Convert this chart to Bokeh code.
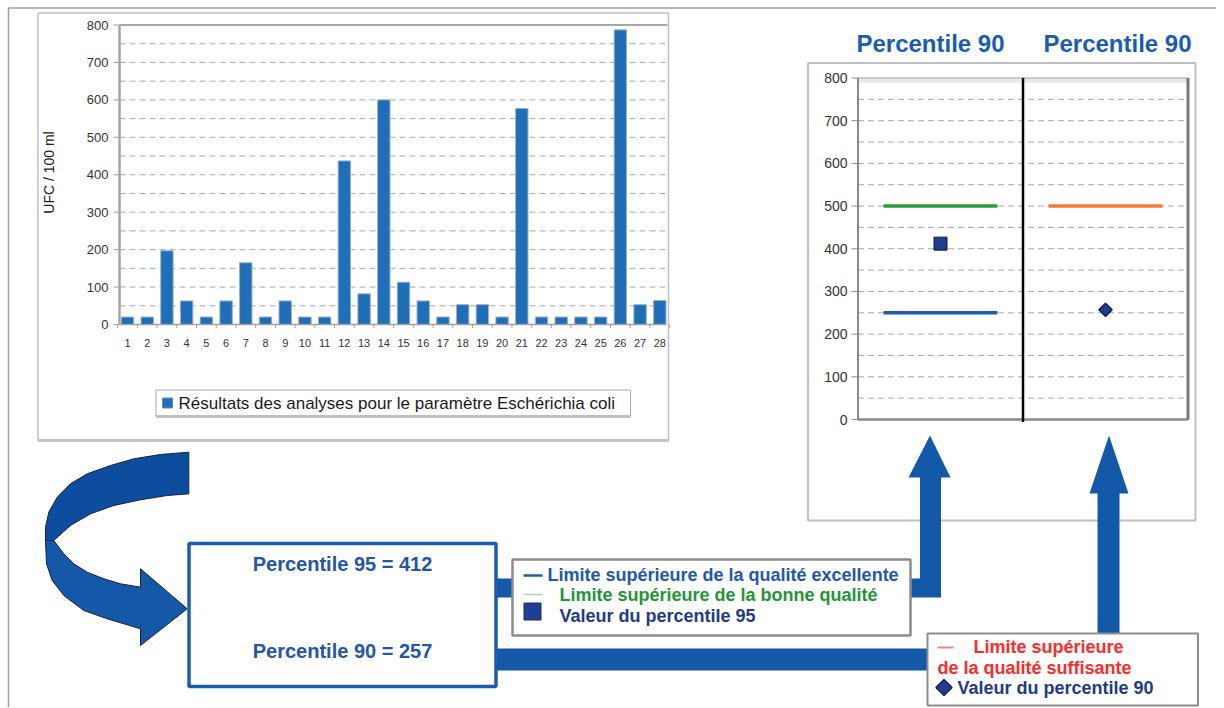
import numpy as np
from bokeh.plotting import figure
from bokeh.models import Range1d
from bokeh.core.properties import value
from bokeh.embed import file_html
from bokeh.resources import INLINE

# ---------------- data ----------------
samples = list(range(1, 29))
ecoli = [20, 20, 197, 63, 20, 63, 165, 20, 63, 20, 20, 437, 82, 600,
         113, 63, 20, 53, 53, 20, 577, 20, 20, 20, 20, 787, 53, 64]
bar_ticks = [0, 100, 200, 300, 400, 500, 600, 700, 800]
minor_ticks = [50, 150, 250, 350, 450, 550, 650, 750]
bar_tick_labels = [str(t) for t in bar_ticks]
bar_legend = "Résultats des analyses pour le paramètre Eschérichia coli"
y_title = "UFC / 100 ml"

columns = [1, 2]
column_titles = ["Percentile 90", "Percentile 90"]
limit_columns = [1, 1, 2]
limit_values = [250, 500, 500]
limit_colors = ["#1f5cb0", "#2a9a3c", "#f37a36"]
limit_names = ["Limite supérieure de la qualité excellente",
               "Limite supérieure de la bonne qualité",
               "Limite supérieure", "de la qualité suffisante"]
p95_value = 412
p90_value = 257

FONT = value("Liberation Sans")
ARROW = "#1459a8"
W, H = 1216, 707


def fit_range(v0, s0, v1, s1, lo, hi):
    k = (v1 - v0) / (s1 - s0)
    return Range1d(start=v0 + (lo - s0) * k, end=v0 + (hi - s0) * k)


p = figure(width=W, height=H, x_range=Range1d(0, W), y_range=Range1d(H, 0),
           x_axis_type=None, y_axis_type=None, toolbar_location=None,
           output_backend="svg", min_border=0, outline_line_color=None,
           background_fill_color="white", border_fill_color="white")

p.extra_x_ranges["bx"] = fit_range(1, 127, 28, 659.3, 0, W)
p.extra_y_ranges["by"] = fit_range(0, 324, 800, 24.5, H, 0)
p.extra_x_ranges["px"] = fit_range(1, 940, 2, 1105, 0, W)
p.extra_y_ranges["py"] = fit_range(0, 419, 800, 77.5, H, 0)

# page frame
p.segment(x0=8, x1=W, y0=7.5, y1=7.5, line_color="#a0a0a0", line_width=1.5)
p.segment(x0=8, x1=8, y0=7.5, y1=H, line_color="#a0a0a0", line_width=1.5)

# ---------------- bar chart ----------------
p.quad(left=37.5, right=668, top=12.5, bottom=440, fill_color="white",
       line_color="#c0c0c0", line_width=1.5)
p.segment(x0=37.5, x1=668, y0=440, y1=440, line_color="#c4c4c4", line_width=3)

p.segment(x0=119, x1=666, y0=minor_ticks + bar_ticks[1:-1], y1=minor_ticks + bar_ticks[1:-1],
          y_range_name="by", line_color="#a8a8a8", line_width=1, line_dash="6 4")
p.vbar(x=samples, top=ecoli, bottom=0, width=0.63, x_range_name="bx", y_range_name="by",
       fill_color="#1e6eb8", line_color="#9fb0c8", line_width=1)
p.segment(x0=119, x1=119, y0=0, y1=800, y_range_name="by", line_color="#a6a6a6", line_width=2.5)
p.segment(x0=119, x1=667, y0=800, y1=800, y_range_name="by", line_color="#a6a6a6", line_width=2)
p.segment(x0=119, x1=666, y0=0, y1=0, y_range_name="by", line_color="#a0a0a0", line_width=1.5)
p.segment(x0=113, x1=119, y0=bar_ticks, y1=bar_ticks, y_range_name="by",
          line_color="#a0a0a0", line_width=1)
bounds = [s + 0.5 for s in [0] + samples]
p.segment(x0=bounds, x1=bounds, y0=324, y1=327.5, x_range_name="bx",
          line_color="#a0a0a0", line_width=1)
p.text(x=108, y=bar_ticks, text=bar_tick_labels, y_range_name="by", text_font=FONT,
       text_font_size="13px", text_color="#333333", text_align="right", text_baseline="middle")
p.text(x=samples, y=342, text=[str(s) for s in samples], x_range_name="bx", text_font=FONT,
       text_font_size="11px", text_color="#333333", text_align="center", text_baseline="middle")
p.text(x=48, y=172, text=[y_title], angle=np.pi / 2, text_font=FONT, text_font_size="14px",
       text_color="#222222", text_align="center", text_baseline="middle")

p.quad(left=155.5, right=630, top=389.5, bottom=416, fill_color="white",
       line_color="#a8a8a8", line_width=1)
p.segment(x0=155.5, x1=630, y0=416, y1=416, line_color="#c0c0c0", line_width=3)
p.scatter(x=[167], y=[402.5], marker="square", size=10, fill_color="#1e6eb8",
          line_color="#6a88b8", line_width=1)
p.text(x=178, y=403, text=[bar_legend], text_font=FONT, text_font_size="17px",
       text_color="#1a1a1a", text_align="left", text_baseline="middle")

# ---------------- percentile chart ----------------
p.quad(left=807.5, right=1195, top=62.5, bottom=520, fill_color="white",
       line_color="#c0c0c0", line_width=2)
p.quad(left=0.5, right=2.5, top=800, bottom=789, x_range_name="px", y_range_name="py",
       fill_color="#e8e8e8", line_color=None)
p.segment(x0=0.5, x1=2.5, y0=800, y1=800, x_range_name="px", y_range_name="py",
          line_color="#bdbdbd", line_width=1.5)
p.segment(x0=0.5, x1=2.5, y0=minor_ticks + bar_ticks[1:-1], y1=minor_ticks + bar_ticks[1:-1],
          x_range_name="px", y_range_name="py", line_color="#a8a8a8", line_width=1, line_dash="6 4")
p.segment(x0=0.5, x1=0.5, y0=0, y1=800, x_range_name="px", y_range_name="py",
          line_color="#8a8a8a", line_width=2)
p.segment(x0=0.5, x1=2.5, y0=0, y1=0, x_range_name="px", y_range_name="py",
          line_color="#8a8a8a", line_width=2.5)
p.segment(x0=2.5, x1=2.5, y0=0, y1=800, x_range_name="px", y_range_name="py",
          line_color="#777777", line_width=3)
p.segment(x0=1.5, x1=1.5, y0=-6, y1=800, x_range_name="px", y_range_name="py",
          line_color="#000000", line_width=2.5)
p.segment(x0=851, x1=857.5, y0=bar_ticks, y1=bar_ticks, y_range_name="py",
          line_color="#8a8a8a", line_width=1)
p.text(x=847, y=bar_ticks, text=bar_tick_labels, y_range_name="py", text_font=FONT,
       text_font_size="14px", text_color="#333333", text_align="right", text_baseline="middle")

p.segment(x0=[c - 0.345 for c in limit_columns], x1=[c + 0.345 for c in limit_columns],
          y0=limit_values, y1=limit_values, x_range_name="px", y_range_name="py",
          line_color=limit_colors, line_width=3.5)
p.scatter(x=[1], y=[p95_value], marker="square", size=13, fill_color="#203d8e",
          line_color="#0d1a40", line_width=1, x_range_name="px", y_range_name="py")
p.scatter(x=[2], y=[p90_value], marker="square", angle=np.pi / 4, size=9.5,
          fill_color="#203d8e", line_color="#0d1a40", line_width=1.2,
          x_range_name="px", y_range_name="py")

p.text(x=[930, 1117], y=43, text=column_titles, text_font=FONT, text_font_style="bold",
       text_font_size="24px", text_color="#1b5cb3", text_align="center", text_baseline="middle")

# ---------------- arrows ----------------
# curved arrow (upper dark ribbon, lower light ribbon)
upper_x = [188.3, 160, 133.3, 110, 86.7, 70, 56.7, 48.3, 45, 45, 53.3, 70, 90, 113.3, 140, 166.7, 188.3]
upper_y = [451.7, 454, 458.3, 465, 473.3, 483.3, 496.7, 511.7, 526.7, 540, 540, 525, 513.3, 505, 499.3, 495, 493.3]
lower_x = [45, 46, 51.7, 63.3, 83.3, 106.7, 140, 140, 186.7, 140, 140, 120, 103.3, 86.7, 73.3, 63.3, 53.3]
lower_y = [540, 563.3, 580, 595, 610, 618.3, 628.3, 645, 608.3, 568.3, 586.7, 583.3, 578.3, 571.7, 563.3, 553.3, 540]
p.patch(x=upper_x, y=upper_y, fill_color="#0c4d9e", line_color="#1a1f45", line_width=1)
p.patch(x=lower_x, y=lower_y, fill_color="#1459a8", line_color="#1a1f45", line_width=1)

# up arrows to the percentile chart
p.patch(x=[929.5, 950, 940.5, 940.5, 909, 909, 919.5, 919.5, 908],
        y=[435, 477, 477, 597, 597, 578, 578, 477, 477],
        fill_color=ARROW, line_color=None)
p.patch(x=[1108.5, 1128, 1119, 1119, 1097, 1097, 1089],
        y=[435, 493, 493, 634, 634, 493, 493],
        fill_color=ARROW, line_color=None)
# connectors from the result box
p.quad(left=495, right=514, top=578, bottom=597, fill_color=ARROW, line_color=None)
p.quad(left=495, right=928, top=648, bottom=670, fill_color=ARROW, line_color=None)

# result box
p.quad(left=188.5, right=495.5, top=543, bottom=686, fill_color="white",
       line_color="#1c5cae", line_width=3.5)
p.text(x=342, y=[563, 650], text=[f"Percentile 95 = {p95_value}", f"Percentile 90 = {p90_value}"],
       text_font=FONT, text_font_style="bold", text_font_size="20px", text_color="#2456a8",
       text_align="center", text_baseline="middle")

# legend 1
p.quad(left=512, right=910, top=559, bottom=635, fill_color="white",
       line_color="#8c8c8c", line_width=2.5)
p.segment(x0=523, x1=542, y0=575, y1=575, line_color=limit_colors[0], line_width=2.5)
p.segment(x0=523, x1=542, y0=594, y1=594, line_color="#a5d8aa", line_width=1.5)
p.scatter(x=[532], y=[611], marker="square", size=17, fill_color="#1e3f94",
          line_color="#2a2a4a", line_width=1)
p.text(x=547, y=574, text=[limit_names[0]], text_font=FONT, text_font_style="bold",
       text_font_size="18px", text_color="#2456b0", text_baseline="middle")
p.text(x=559, y=594, text=[limit_names[1]], text_font=FONT, text_font_style="bold",
       text_font_size="18px", text_color="#1f9535", text_baseline="middle")
p.text(x=559, y=615, text=["Valeur du percentile 95"], text_font=FONT, text_font_style="bold",
       text_font_size="18px", text_color="#1f3a8c", text_baseline="middle")

# legend 2
p.quad(left=927, right=1197.5, top=633, bottom=705, fill_color="white",
       line_color="#8c8c8c", line_width=2)
p.segment(x0=937, x1=953, y0=647, y1=647, line_color="#ff8080", line_width=2)
p.text(x=973, y=646, text=[limit_names[2]], text_font=FONT, text_font_style="bold",
       text_font_size="18px", text_color="#ff2a2a", text_baseline="middle")
p.text(x=937, y=667, text=[limit_names[3]], text_font=FONT, text_font_style="bold",
       text_font_size="18px", text_color="#ff2a2a", text_baseline="middle")
p.scatter(x=[943.5], y=[687], marker="square", angle=np.pi / 4, size=11.5,
          fill_color="#203d8e", line_color="#0d1a40", line_width=1.2)
p.text(x=957, y=687, text=["Valeur du percentile 90"], text_font=FONT, text_font_style="bold",
       text_font_size="18px", text_color="#22398a", text_baseline="middle")

open("out.html", "w").write(file_html(p, INLINE))
